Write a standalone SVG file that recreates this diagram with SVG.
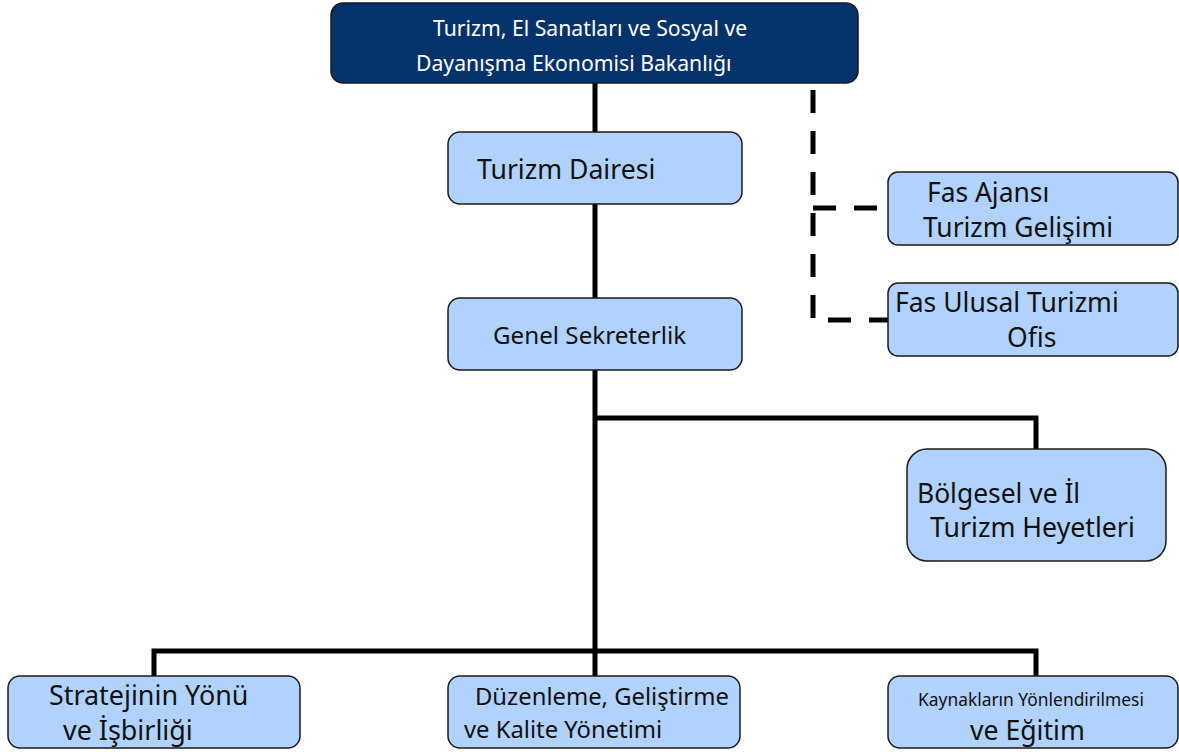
<svg xmlns="http://www.w3.org/2000/svg" width="1179" height="752" viewBox="0 0 1179 752">
<style>
.box{fill:#b0d2fc;stroke:#1a1a1a;stroke-width:1.5}
.top{fill:#04326b;stroke:#1a1a1a;stroke-width:1.5}
text{font-family:"Noto Sans","Open Sans","DejaVu Sans",sans-serif;fill:#111}
.w{fill:#ffffff}
.ln{fill:none;stroke:#000;stroke-width:5}
.dash{fill:none;stroke:#000;stroke-width:5;stroke-dasharray:23 18}
</style>
<rect width="1179" height="752" fill="#fff"/>
<g id="connectors">
<path class="ln" d="M595 83V676"/>
<path class="ln" d="M595 418H1036V449"/>
<path class="ln" d="M154 676V651H1036V676"/>
<path class="dash" d="M813 90V320"/>
<path class="dash" d="M813 208H888"/>
<path class="dash" d="M828 320H888"/>
</g>
<g id="n_ministry">
<rect class="top" x="331" y="3" width="527" height="80" rx="12"/>
<text class="w" x="433" y="36" font-size="21.2">Turizm, El Sanatları ve Sosyal ve</text>
<text class="w" x="416" y="71" font-size="21.2">Dayanışma Ekonomisi Bakanlığı</text>
</g>
<g id="n_dairesi">
<rect class="box" x="448" y="132" width="294" height="72" rx="12"/>
<text x="477" y="179" font-size="26.6">Turizm Dairesi</text>
</g>
<g id="n_genel">
<rect class="box" x="448" y="298" width="294" height="72" rx="12"/>
<text x="493" y="344" font-size="24.2">Genel Sekreterlik</text>
</g>
<g id="n_ajans">
<rect class="box" x="888" y="172" width="290" height="73" rx="10"/>
<text x="927" y="202" font-size="26.4">Fas Ajansı</text>
<text x="923" y="237" font-size="26.4">Turizm Gelişimi</text>
</g>
<g id="n_ofis">
<rect class="box" x="888" y="283" width="290" height="73" rx="10"/>
<text x="895" y="312" font-size="26.5">Fas Ulusal Turizmi</text>
<text x="1007" y="347" font-size="26.5">Ofis</text>
</g>
<g id="n_bolgesel">
<rect class="box" x="907" y="449" width="259" height="112" rx="20"/>
<text x="917" y="503" font-size="26.4">Bölgesel ve İl</text>
<text x="930" y="537" font-size="26.7">Turizm Heyetleri</text>
</g>
<g id="n_strateji">
<rect class="box" x="8" y="676" width="292" height="72" rx="12"/>
<text x="49" y="705" font-size="26.9">Stratejinin Yönü</text>
<text x="63" y="740" font-size="26.9">ve İşbirliği</text>
</g>
<g id="n_duzenleme">
<rect class="box" x="448" y="676" width="292" height="72" rx="12"/>
<text x="475" y="705" font-size="23.8">Düzenleme, Geliştirme</text>
<text x="464" y="738" font-size="23.8">ve Kalite Yönetimi</text>
</g>
<g id="n_kaynak">
<rect class="box" x="888" y="676" width="290" height="72" rx="12"/>
<text x="918" y="706" font-size="17.4">Kaynakların Yönlendirilmesi</text>
<text x="970" y="740" font-size="26.6">ve Eğitim</text>
</g>
</svg>
